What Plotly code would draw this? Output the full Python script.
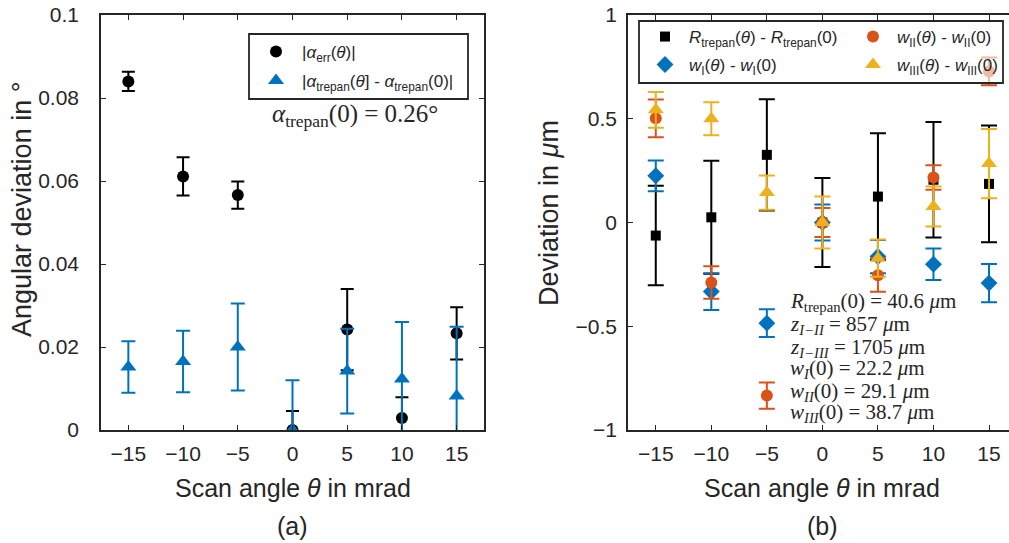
import plotly.graph_objects as go

W, H = 1009, 543

# ---------------- data ----------------
theta = [-15, -10, -5, 0, 5, 10, 15]

# panel (a)
alpha_err = [0.0840, 0.0611, 0.0566, 0.0, 0.0242, 0.0029, 0.0233]
alpha_err_e = [0.0023, 0.0046, 0.0033, 0.0046, 0.0098, 0.0050, 0.0063]
alpha_trepan = [0.0152, 0.0165, 0.0200, 0.0, 0.0142, 0.0123, 0.0082]
alpha_trepan_e = [0.0062, 0.0074, 0.0105, 0.0120, 0.0102, 0.0137, 0.0167]

# panel (b)
R_dev = [-0.063, 0.025, 0.326, 0.0, 0.125, 0.206, 0.186]
R_dev_e = [0.240, 0.272, 0.268, 0.215, 0.305, 0.278, 0.281]
wI_dev = [0.225, -0.333, -0.485, 0.0, -0.164, -0.201, -0.292]
wI_dev_e = [0.074, 0.089, 0.067, 0.087, 0.080, 0.076, 0.092]
wII_dev = [0.502, -0.289, -0.834, 0.0, -0.254, 0.217, 0.728]
wII_dev_e = [0.091, 0.078, 0.063, 0.070, 0.080, 0.059, 0.067]
wIII_dev = [0.543, 0.500, 0.144, 0.0, -0.172, 0.077, 0.284]
wIII_dev_e = [0.086, 0.079, 0.083, 0.125, 0.090, 0.096, 0.167]

a_ticks = [0, 0.02, 0.04, 0.06, 0.08, 0.1]
b_ticks = [-1, -0.5, 0, 0.5, 1]
x_ticks = theta

info_lines = [
    "<i>R</i><sub>trepan</sub>(0) = 40.6 <i>μ</i>m",
    "<i>z</i><sub><i>I−II</i></sub> = 857 <i>μ</i>m",
    "<i>z</i><sub><i>I−III</i></sub> = 1705 <i>μ</i>m",
    "<i>w</i><sub><i>I</i></sub>(0) = 22.2 <i>μ</i>m",
    "<i>w</i><sub><i>II</i></sub>(0) = 29.1 <i>μ</i>m",
    "<i>w</i><sub><i>III</i></sub>(0) = 38.7 <i>μ</i>m",
]

BLACK = "#000000"
BLUE = "#0072BD"
RED = "#D95319"
YEL = "#EDB120"
AX = "#262626"
SANS = "Arial, Liberation Sans, sans-serif"
SERIF = "Liberation Serif, Times New Roman, serif"

def px(x):
    return x / W

def py(y):
    return 1 - y / H

fig = go.Figure()

def add(x, y, e, color, symbol, size, name, xa, ya, legend, cap):
    fig.add_trace(go.Scatter(
        x=x, y=y, mode="markers", name=name,
        xaxis=xa, yaxis=ya, legend=legend,
        marker=dict(color=color, symbol=symbol, size=size, line=dict(width=0)),
        error_y=dict(type="data", array=e, visible=True, color=color,
                     thickness=2, width=cap),
    ))

add(theta, alpha_err, alpha_err_e, BLACK, "circle", 12,
    "|<i>α</i><sub>err</sub>(<i>θ</i>)|", "x", "y", "legend", 6.5)
add(theta, alpha_trepan, alpha_trepan_e, BLUE, "triangle-up", 14,
    "|<i>α</i><sub>trepan</sub>(<i>θ</i>] - <i>α</i><sub>trepan</sub>(0)|", "x", "y", "legend2", 7)

add(theta, R_dev, R_dev_e, BLACK, "square", 10,
    "<i>R</i><sub>trepan</sub>(<i>θ</i>) - <i>R</i><sub>trepan</sub>(0)", "x2", "y2", "legend3", 8)
add(theta, wI_dev, wI_dev_e, BLUE, "diamond", 13,
    "<i>w</i><sub>I</sub>(<i>θ</i>) - <i>w</i><sub>I</sub>(0)", "x2", "y2", "legend4", 8)
add(theta, wII_dev, wII_dev_e, RED, "circle", 12,
    "<i>w</i><sub>II</sub>(<i>θ</i>) - <i>w</i><sub>II</sub>(0)", "x2", "y2", "legend5", 8)
add(theta, wIII_dev, wIII_dev_e, YEL, "triangle-up", 14,
    "<i>w</i><sub>III</sub>(<i>θ</i>) - <i>w</i><sub>III</sub>(0)", "x2", "y2", "legend6", 8)

tickfont = dict(family=SANS, size=21, color=AX)
common_x = dict(range=[-17.5, 17.5], tickvals=x_ticks, ticks="inside", ticklen=5,
                tickwidth=1.3, tickcolor=AX, showline=True, linecolor=AX, linewidth=1.5,
                showgrid=False, zeroline=False, tickfont=tickfont, ticklabelstandoff=4,
                automargin=False)

ydom = [py(430), py(15)]
fig.update_layout(
    width=W, height=H, margin=dict(l=0, r=0, t=0, b=0, autoexpand=False),
    paper_bgcolor="white", plot_bgcolor="white",
    xaxis=dict(common_x, domain=[px(101), px(484)], mirror="ticks", anchor="y"),
    yaxis=dict(range=[0, 0.1], tickvals=a_ticks, ticks="inside", ticklen=5, tickwidth=1.3,
               tickcolor=AX, showline=True, linecolor=AX, linewidth=1.5, mirror="ticks",
               showgrid=False, zeroline=False, tickfont=tickfont, domain=ydom,
               anchor="x", ticklabelstandoff=16, automargin=False),
    xaxis2=dict(common_x, range=[-17.5, 16.8], domain=[px(628), 1.0], mirror="ticks", anchor="y2"),
    yaxis2=dict(range=[-1, 1], tickvals=b_ticks, ticks="inside", ticklen=5, tickwidth=1.3,
                tickcolor=AX, showline=True, linecolor=AX, linewidth=1.5,
                showgrid=False, zeroline=False, tickfont=tickfont, domain=ydom,
                anchor="x2", ticklabelstandoff=5, automargin=False),
    showlegend=True,
)

legfont = dict(family=SANS, size=17, color=AX)
def leg(xp, yp, iw):
    return dict(x=px(xp - (iw / 2 + 5)), y=py(yp), xanchor="left", yanchor="middle",
                bgcolor="rgba(0,0,0,0)", borderwidth=0, font=legfont, itemwidth=iw)

fig.update_layout(
    legend=leg(276, 52, 42),
    legend2=leg(276, 81, 42),
    legend3=leg(665, 37, 38),
    legend4=leg(665, 65, 38),
    legend5=leg(873, 37, 38),
    legend6=leg(873, 65, 38),
)

# legend boxes
fig.add_shape(type="rect", xref="paper", yref="paper", x0=px(249), x1=px(468),
              y0=py(99), y1=py(34), line=dict(color=AX, width=1.8),
              fillcolor="rgba(255,255,255,0.6)", layer="above")
fig.add_shape(type="rect", xref="paper", yref="paper", x0=px(639), x1=px(1003),
              y0=py(83), y1=py(21), line=dict(color=AX, width=1.8),
              fillcolor="rgba(255,255,255,0.6)", layer="above")

ann = []
ann.append(dict(text="<i>α</i><sub>trepan</sub>(0) = 0.26°", x=px(270), y=py(115),
                xref="paper", yref="paper", xanchor="left", yanchor="middle",
                showarrow=False, font=dict(family=SERIF, size=25, color=AX)))
for i, t in enumerate(info_lines):
    ypix = [302, 325, 348, 369, 392, 413][i]
    ann.append(dict(text=t, x=px(788), y=py(ypix), xref="paper", yref="paper",
                    xanchor="left", yanchor="middle", showarrow=False,
                    font=dict(family=SERIF, size=21, color=AX)))
titlefont = dict(family=SANS, size=25, color=AX)
ytitlefont = dict(family=SANS, size=27, color=AX)
ann.append(dict(text="Scan angle <i>θ</i> in mrad", x=0, xref="x", y=py(488), yref="paper",
                showarrow=False, xanchor="center", yanchor="middle", font=titlefont))
ann.append(dict(text="Scan angle <i>θ</i> in mrad", x=0, xref="x2", y=py(488), yref="paper",
                showarrow=False, xanchor="center", yanchor="middle", font=titlefont))
ann.append(dict(text="(a)", x=0, xref="x", y=py(526), yref="paper",
                showarrow=False, xanchor="center", yanchor="middle", font=titlefont))
ann.append(dict(text="(b)", x=0, xref="x2", y=py(526), yref="paper",
                showarrow=False, xanchor="center", yanchor="middle", font=titlefont))
ann.append(dict(text="Angular deviation in °", x=px(22), y=py(210), xref="paper", yref="paper",
                showarrow=False, textangle=-90, xanchor="center", yanchor="middle", font=ytitlefont))
ann.append(dict(text="Deviation in <i>μ</i>m", x=px(549), y=py(213), xref="paper", yref="paper",
                showarrow=False, textangle=-90, xanchor="center", yanchor="middle", font=ytitlefont))
fig.update_layout(annotations=ann)

fig.write_html("out.html")
